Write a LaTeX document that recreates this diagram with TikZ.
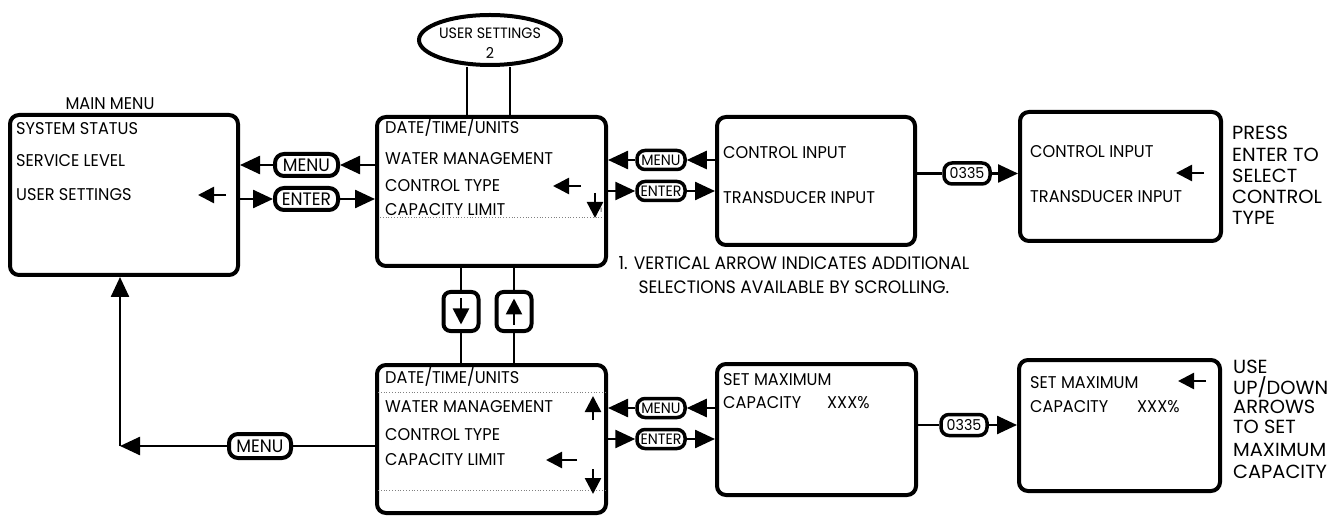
\documentclass[tikz,border=0pt]{standalone}
\usepackage{fontspec}
\setmainfont{Poppins}
\newfontfamily\cond{Poppins}[FakeStretch=0.95]
\newfontfamily\wide{Poppins}[FakeStretch=1.02]
\usetikzlibrary{arrows.meta,shapes.geometric}
\begin{document}
\begin{tikzpicture}[x=1pt,y=-1pt,
  box/.style={draw, line width=4pt, rounded corners=9pt, inner sep=0pt},
  pill/.style={draw, line width=4pt, rounded corners=9pt, inner sep=0pt, font=\cond\fontsize{18}{18}\selectfont},
  spill/.style={draw, line width=3.5pt, rounded corners=8pt, inner sep=0pt, font=\cond\fontsize{15}{15}\selectfont},
  lbl/.style={anchor=west, inner sep=0pt, font=\cond\fontsize{17}{18}\selectfont},
  note/.style={anchor=west, inner sep=0pt, font=\wide\fontsize{19}{20}\selectfont},
  conn/.style={line width=2.5pt, -{Triangle[length=20pt,width=18pt]}},
  plain/.style={line width=2.5pt},
  mini/.style={line width=2.5pt, -{Triangle[length=16pt,width=16pt]}},
  dots/.style={dotted, line width=0.8pt, gray}
]
\useasboundingbox (0,0) rectangle (1340,518);
% boxes
\node[box, minimum width=228pt, minimum height=160pt] (main) at (124,195) {};
\node[box, minimum width=229pt, minimum height=149pt] (mid) at (491.5,191.5) {};
\node[box, minimum width=198pt, minimum height=128pt] (ci) at (816,181) {};
\node[box, minimum width=201pt, minimum height=129pt] (ci2) at (1120.5,176.5) {};
\node[box, minimum width=229pt, minimum height=148pt] (bot) at (491.5,439) {};
\node[box, minimum width=199pt, minimum height=131pt] (smx) at (816.5,429.5) {};
\node[box, minimum width=201pt, minimum height=131pt] (smx2) at (1119.5,425.5) {};
\node[draw, ellipse, line width=4pt, minimum width=142pt, minimum height=50pt, inner sep=0pt] (us) at (490,40) {};
\node[inner sep=0pt, font=\cond\fontsize{15}{16}\selectfont] (ust) at (490,33) {USER SETTINGS};
\node[inner sep=0pt, font=\cond\fontsize{15}{16}\selectfont] (usn) at (490,53) {2};
% up / down buttons
\node[box, rounded corners=7pt, minimum width=35pt, minimum height=39pt] (dn) at (461,311.5) {};
\node[box, rounded corners=7pt, minimum width=35pt, minimum height=39pt] (upb) at (514,311.5) {};
\draw[mini] ([yshift=13pt]dn.center) -- ([yshift=-13pt]dn.center);
\draw[mini] ([yshift=-13pt]upb.center) -- ([yshift=13pt]upb.center);
% pills
\node[pill, minimum width=63pt, minimum height=22pt] (menu1) at (306.5,165) {MENU};
\node[pill, minimum width=63pt, minimum height=22pt] (enter1) at (306.5,199) {ENTER};
\node[spill, minimum width=48pt, minimum height=19pt] (menu2) at (661,160) {MENU};
\node[spill, minimum width=48pt, minimum height=19pt] (enter2) at (661,191) {ENTER};
\node[spill, minimum width=46pt, minimum height=21pt] (pa) at (967,173.5) {0335};
\node[spill, minimum width=48pt, minimum height=19pt] (menu3) at (661,408) {MENU};
\node[spill, minimum width=48pt, minimum height=19pt] (enter3) at (661,439) {ENTER};
\node[spill, minimum width=46pt, minimum height=21pt] (pb) at (964,425) {0335};
\node[pill, minimum width=62pt, minimum height=24pt] (menu4) at (260,446) {MENU};
\coordinate (corner) at (120,446);
% connectors top row
\draw[conn] (mid.west |- menu1) -- (menu1.east);
\draw[conn] (menu1.west) -- (main.east |- menu1);
\draw[conn] (main.east |- enter1) -- (enter1.west);
\draw[conn] (enter1.east) -- (mid.west |- enter1);
\draw[conn] (ci.west |- menu2) -- (menu2.east);
\draw[conn] (menu2.west) -- (mid.east |- menu2);
\draw[conn] (mid.east |- enter2) -- (enter2.west);
\draw[conn] (enter2.east) -- (ci.west |- enter2);
\draw[plain] (ci.east |- pa) -- (pa.west);
\draw[conn] (pa.east) -- (ci2.west |- pa);
% bottom row
\draw[conn] (smx.west |- menu3) -- (menu3.east);
\draw[conn] (menu3.west) -- (bot.east |- menu3);
\draw[conn] (bot.east |- enter3) -- (enter3.west);
\draw[conn] (enter3.east) -- (smx.west |- enter3);
\draw[plain] (smx.east |- pb) -- (pb.west);
\draw[conn] (pb.east) -- (smx2.west |- pb);
\draw[plain] (bot.west |- menu4) -- (menu4.east);
\draw[conn] (menu4.west) -- (corner);
\draw[conn] (corner) -- (main.south -| corner);
% vertical links
\draw[plain] ([xshift=-23pt]us.south) -- ([xshift=-23pt]us.south |- mid.north);
\draw[plain] ([xshift=20pt]us.south) -- ([xshift=20pt]us.south |- mid.north);
\draw[plain] (mid.south -| dn) -- (dn.north);
\draw[plain] (dn.south) -- (bot.north -| dn);
\draw[plain] (mid.south -| upb) -- (upb.north);
\draw[plain] (upb.south) -- (bot.north -| upb);
% texts main
\node[font=\cond\fontsize{17}{18}\selectfont, inner sep=0pt] (mmt) at (110,104) {MAIN MENU};
\node[lbl] (m1) at (16,129) {SYSTEM STATUS};
\node[lbl] (m2) at (16,161) {SERVICE LEVEL};
\node[lbl] (m3) at (16,195) {USER SETTINGS};
\draw[mini] (226,195) -- (198,195);
% mid
\node[lbl] at (385,127) {DATE/TIME/UNITS};
\node[lbl] at (385,159) {WATER MANAGEMENT};
\node[lbl] at (385,186) {CONTROL TYPE};
\node[lbl] at (385,210) {CAPACITY LIMIT};
\draw[mini] (581,186) -- (553,186);
\draw[mini] (595,193) -- (595,218);
\node[inner sep=0pt, font=\fontsize{6}{6}\selectfont] at (601,210) {1};
\draw[dots] (380,217) -- (603,217);
% ci
\node[lbl] at (723,153) {CONTROL INPUT};
\node[lbl] at (723,198) {TRANSDUCER INPUT};
\node[lbl] at (1030,152) {CONTROL INPUT};
\node[lbl] at (1030,197) {TRANSDUCER INPUT};
\draw[mini] (1204,173) -- (1176,173);
\node[note] at (1232,133) {PRESS};
\node[note] at (1232,155) {ENTER TO};
\node[note] at (1232,176) {SELECT};
\node[note] at (1232,197) {CONTROL};
\node[note] at (1232,218) {TYPE};
% footnote
\node[align=center, inner sep=0pt, font=\cond\fontsize{18}{24}\selectfont] (fn) at (794,275)
  {1. VERTICAL ARROW INDICATES ADDITIONAL\\SELECTIONS AVAILABLE BY SCROLLING.};
% bottom
\node[lbl] at (385,377) {DATE/TIME/UNITS};
\node[lbl] at (385,407) {WATER MANAGEMENT};
\node[lbl] at (385,435) {CONTROL TYPE};
\node[lbl] at (385,460) {CAPACITY LIMIT};
\draw[dots] (378,392) -- (605,392);
\draw[dots] (378,490) -- (605,490);
\draw[mini] (593,420) -- (593,396);
\draw[mini] (577,460) -- (546,460);
\draw[mini] (593,469) -- (593,494);
\node[lbl] at (723,380) {SET MAXIMUM};
\node[lbl] at (723,403) {CAPACITY};
\node[lbl] at (827,403) {XXX\%};
\node[lbl] at (1030,383) {SET MAXIMUM};
\node[lbl] at (1030,407) {CAPACITY};
\node[lbl] at (1137,407) {XXX\%};
\draw[mini] (1206,381) -- (1178,381);
\node[note] at (1233,367) {USE};
\node[note] at (1233,387) {UP/DOWN};
\node[note] at (1233,407) {ARROWS};
\node[note] at (1233,427) {TO SET};
\node[note] at (1233,450) {MAXIMUM};
\node[note] at (1233,472) {CAPACITY};
\end{tikzpicture}
\end{document}
